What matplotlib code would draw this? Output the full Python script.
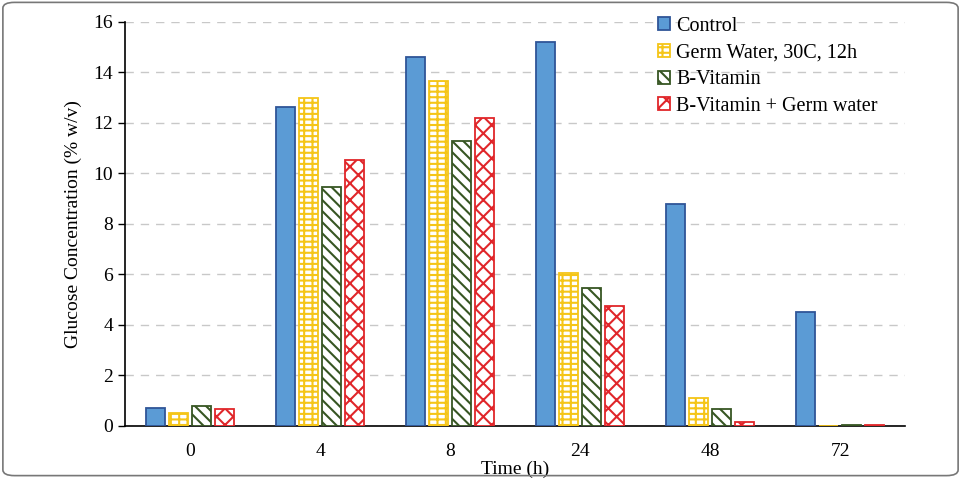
import matplotlib
matplotlib.use("Agg")
import matplotlib.pyplot as plt
from matplotlib.patches import FancyBboxPatch
import numpy as np

plt.rcParams['font.family'] = ['Liberation Serif', 'DejaVu Serif']
plt.rcParams['hatch.linewidth'] = 1.5

times = ['0', '4', '8', '24', '48', '72']
series = ['Control', 'Germ Water, 30C, 12h', 'B-Vitamin', 'B-Vitamin + Germ water']
control = [0.7, 12.65, 14.6, 15.2, 8.8, 4.5]
germ = [0.5, 13.0, 13.65, 6.05, 1.1, 0.0]
bvit = [0.8, 9.45, 11.3, 5.45, 0.65, 0.03]
bvit_germ = [0.65, 10.55, 12.2, 4.75, 0.15, 0.03]

fig = plt.figure(figsize=(9.61, 4.78), dpi=100)
# rounded frame round the whole picture
fig.patches.append(FancyBboxPatch((0.003, 0.005), 0.994, 0.99, boxstyle="round,pad=0,rounding_size=0.012",
                                  transform=fig.transFigure, fill=False, edgecolor='#777777', linewidth=1.2))
ax = fig.add_axes([0.130, 0.109, 0.812, 0.845])

x = np.arange(len(times))
w = 0.146
step = 0.178
styles = [
    dict(facecolor='#5B9BD5', edgecolor='#2F5597', hatch=None),
    dict(facecolor='white', edgecolor='#F5C518', hatch='++-'),
    dict(facecolor='white', edgecolor='#375623', hatch='\\\\\\'),
    dict(facecolor='white', edgecolor='#E0262A', hatch='xx'),
]
for i, (vals, st) in enumerate(zip([control, germ, bvit, bvit_germ], styles)):
    ax.bar(x + (i - 1.5) * step, vals, w, label=series[i], linewidth=1.3, zorder=3, **st)

ax.set_xlim(-0.5, len(times) - 0.5)
ax.set_ylim(0, 16)
ax.set_yticks(np.arange(0, 17, 2))
ax.set_xticks(x)
ax.set_xticklabels(times)
ax.tick_params(axis='x', length=0, labelsize=14, pad=12)
ax.tick_params(axis='y', length=5, width=1, labelsize=14, direction='out')
ax.grid(axis='y', linestyle=(0, (6, 5)), color='#c8c8c8', linewidth=1, zorder=0)
ax.spines['top'].set_visible(False)
ax.spines['right'].set_visible(False)
ax.spines['left'].set_linewidth(1.2)
ax.spines['bottom'].set_linewidth(1.2)
ax.set_ylabel('Glucose Concentration (% w/v)', fontsize=14, labelpad=8)
ax.set_xlabel('Time (h)', fontsize=14, labelpad=1)

ax.legend(loc='upper left', bbox_to_anchor=(0.670, 0.994), bbox_transform=fig.transFigure,
          frameon=False, fontsize=14.5, handlelength=0.6, handleheight=0.6, handletextpad=0.3,
          labelspacing=0.38, borderpad=0.2)

fig.savefig('out.png', dpi=100)
